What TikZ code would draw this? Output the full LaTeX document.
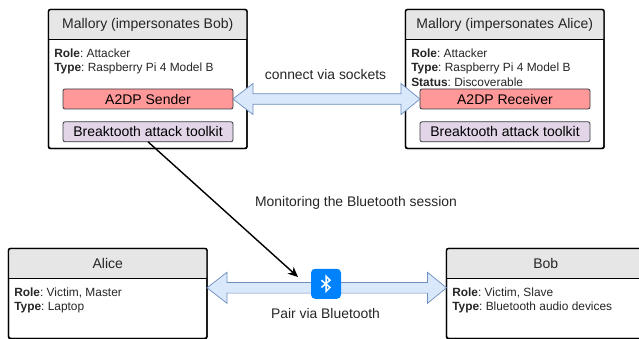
\documentclass[tikz,border=0pt]{standalone}
\usepackage{fontspec}
\setmainfont{Liberation Sans}
\frenchspacing
\usetikzlibrary{calc,arrows.meta}
\definecolor{headfill}{HTML}{E6E6E6}
\definecolor{senderfill}{HTML}{FF9999}
\definecolor{toolfill}{HTML}{E1D5E7}
\definecolor{boxline}{HTML}{36393D}
\definecolor{arrowfill}{HTML}{DAE8FC}
\definecolor{arrowline}{HTML}{6C8EBF}
\definecolor{btblue}{HTML}{0082FC}
\tikzset{
  x=1pt,y=-1pt,
  entity/.style={draw=black,line width=1.4pt,rounded corners=2pt,anchor=north west,inner sep=0pt,outer sep=0pt},
  title/.style={anchor=center,inner sep=0pt,font=\frenchspacing\fontsize{14}{16}\selectfont,text=black!85},
  info/.style={anchor=north west,inner sep=0pt,align=left,font=\frenchspacing\fontsize{11.9}{14.3}\selectfont,text=black!85},
  module/.style={draw=boxline,line width=.8pt,rounded corners=2pt,minimum width=170pt,minimum height=20pt,inner sep=0pt,outer sep=0pt,font=\fontsize{14}{16}\selectfont,text=black},
  sender/.style={module,fill=senderfill},
  tool/.style={module,fill=toolfill},
  blockarrow/.style={draw=arrowline,fill=arrowfill,line width=.7pt,line join=miter},
  label/.style={inner sep=0pt,font=\fontsize{13.9}{16}\selectfont,text=black!85},
}
% name, x, y, width, height, title, body
\newcommand{\entitybox}[7]{
  \node[entity,fill=white,minimum width=#4pt,minimum height=#5pt] (#1) at (#2,#3) {};
  \fill[headfill,rounded corners=2pt] (#1.north west) -- (#1.north east) -- ($(#1.north east)+(0,30)$) [sharp corners] -- ($(#1.north west)+(0,30)$) -- cycle;
  \draw[line width=1.4pt] ($(#1.north west)+(0,30)$) -- ($(#1.north east)+(0,30)$);
  \node[entity,minimum width=#4pt,minimum height=#5pt] at (#2,#3) {};
  \node[title] (#1title) at ($(#1.north)+(0,15.2)$) {#6};
  \node[info] (#1info) at ($(#1.north west)+(5.6,39.2)$) {#7};
}
% from, to: block arrow with a head at each end
\newcommand{\doublearrow}[2]{
  \draw[blockarrow] (#1) -- ++(20,-15.5) -- ++(0,10.2) -- ($(#2)+(-19,-5.3)$) -- ++(0,-10.2) -- (#2) -- ++(-19,15.5) -- ++(0,-10.2) -- ($(#1)+(20,5.3)$) -- ++(0,10.2) -- cycle;
}
\begin{document}
\begin{tikzpicture}
\useasboundingbox (0,0) rectangle (639,339);
\clip (0,0) rectangle (639,339);
\fill[white] (0,0) rectangle (639,339);

\entitybox{mb}{48.5}{9.5}{198.5}{139}{Mallory (impersonates Bob)}{\textbf{Role}: Attacker\\\textbf{Type}: Raspberry Pi 4 Model B}
\entitybox{ma}{405.5}{9.5}{198.5}{139}{Mallory (impersonates Alice)}{\textbf{Role}: Attacker\\\textbf{Type}: Raspberry Pi 4 Model B\\\textbf{Status}: Discoverable}
\entitybox{al}{8.5}{248.5}{198.5}{90}{Alice}{\textbf{Role}: Victim, Master\\\textbf{Type}: Laptop}
\entitybox{bo}{446.5}{248.5}{198.5}{90}{Bob}{\textbf{Role}: Victim, Slave\\\textbf{Type}: Bluetooth audio devices}

\node[sender] (snd) at (148,99) {A2DP Sender};
\node[tool] (tks) at (148,131.8) {Breaktooth attack toolkit};
\node[sender] (rcv) at (505,99) {A2DP Receiver};
\node[tool] (tkr) at (505,131.8) {Breaktooth attack toolkit};

\doublearrow{snd.east}{rcv.west}

\coordinate (alport) at (al.east|-0,287.8);
\coordinate (boport) at (bo.west|-0,287.8);
\doublearrow{alport}{boport}

\node[fill=btblue,rounded corners=4pt,minimum width=30pt,minimum height=30pt,inner sep=0pt,outer sep=0pt] (bt) at (326,283.8) {};
\draw[white,line width=1.5pt,line join=miter]
  ($(bt.center)+(-4.6,-3.6)$) -- ($(bt.center)+(4,3.6)$) -- ($(bt.center)+(0,7.6)$) -- ($(bt.center)+(0,-7.6)$) -- ($(bt.center)+(4,-3.6)$) -- ($(bt.center)+(-4.6,3.6)$);

\coordinate (mon) at (298,277);
\draw[line width=1.4pt,-{Stealth[length=10pt,width=9pt,inset=3pt]}] (tks.south) -- (mon);

\node[label] (sock) at (325.5,75) {connect via sockets};
\node[label] (moni) at (356,203) {Monitoring the Bluetooth session};
\node[label] (pair) at (325.5,314) {Pair via Bluetooth};
\end{tikzpicture}
\end{document}
